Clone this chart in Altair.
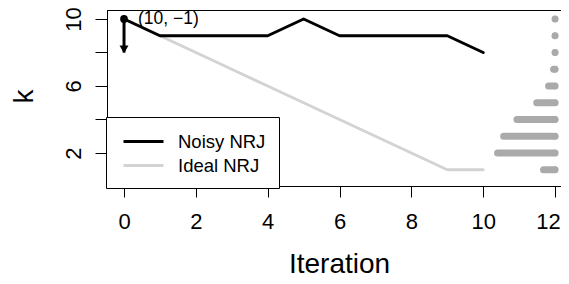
import altair as alt
import pandas as pd

# ---- data ----
iterations = [0, 1, 2, 3, 4, 5, 6, 7, 8, 9, 10]
noisy_k = [10, 9, 9, 9, 9, 10, 9, 9, 9, 9, 8]
ideal_k = [10, 9, 8, 7, 6, 5, 4, 3, 2, 1, 1]
hist_k = [1, 2, 3, 4, 5, 6, 7, 8, 9, 10]
hist_start = [11.68, 10.40, 10.57, 10.94, 11.49, 11.82, 11.96, 12.0, 12.0, 12.0]
hist_end = [12, 12, 12, 12, 12, 12, 12, 12, 12, 12]
start_x = [0]
start_k = [10]
arrow_end_k = [8]
annotation = ["(10, \u22121)"]
x_ticks = [0, 2, 4, 6, 8, 10, 12]
y_ticks = [2, 4, 6, 8, 10]
series_names = ["Noisy NRJ", "Ideal NRJ"]
series_colors = ["#000000", "#d3d3d3"]

W, H = 454, 176
FONT = "Liberation Sans"

xscale = alt.Scale(domain=[-0.474, 12.166], nice=False, zero=False)
yscale = alt.Scale(domain=[0.03, 10.537], nice=False, zero=False)
cscale = alt.Scale(domain=series_names, range=series_colors)

noisy_df = pd.DataFrame({"Iteration": iterations, "k": noisy_k, "series": series_names[0]})
ideal_df = pd.DataFrame({"Iteration": iterations, "k": ideal_k, "series": series_names[1]})
hist_df = pd.DataFrame({"k": hist_k, "x0": hist_start, "x1": hist_end})
start_df = pd.DataFrame({"x": start_x, "k": start_k, "k2": arrow_end_k, "label": annotation})

x_axis = alt.Axis(values=x_ticks, title="Iteration", grid=False, tickSize=11,
                  tickColor="black", domainColor="black", labelColor="black",
                  titleColor="black", labelFont=FONT, titleFont=FONT,
                  labelFontSize=22, labelBaseline="alphabetic", labelPadding=31,
                  labelFlush=False, labelOverlap=False,
                  labelOffset={"condition": {"test": "datum.value == 12", "value": -7}, "value": 0},
                  titleFontSize=28, titleFontWeight="normal", titleBaseline="alphabetic",
                  titleAlign="center", titleX=232, titleY=86)
y_axis = alt.Axis(values=y_ticks, title="k", grid=False, tickSize=12,
                  tickColor="black", domainColor="black", labelColor="black",
                  titleColor="black", labelFont=FONT, titleFont=FONT,
                  labelFontSize=22, labelAngle=270, labelAlign="center",
                  labelBaseline="alphabetic", labelPadding=15, labelFlush=False,
                  labelOverlap=False,
                  labelExpr="datum.value % 4 == 2 ? datum.label : ''",
                  titleFontSize=28, titleFontWeight="normal", titleAngle=270,
                  titleAlign="center", titleBaseline="alphabetic", titleX=-75, titleY=86)

legend = alt.Legend(title=None, orient="none", legendX=-1, legendY=107,
                    strokeColor="black", fillColor="white", padding=13,
                    symbolType="M-2,0H2", symbolSize=400, symbolStrokeWidth=3,
                    symbolOffset=13,
                    labelFontSize=18.5, labelFont=FONT, labelColor="black",
                    labelOffset=23, rowPadding=3, cornerRadius=0)

ideal = alt.Chart(ideal_df).mark_line(strokeWidth=3, strokeCap="round", strokeJoin="round").encode(
    x=alt.X("Iteration:Q", scale=xscale, axis=x_axis),
    y=alt.Y("k:Q", scale=yscale, axis=y_axis),
    color=alt.Color("series:N", scale=cscale, legend=legend),
)
noisy = alt.Chart(noisy_df).mark_line(strokeWidth=3, strokeCap="round", strokeJoin="round").encode(
    x=alt.X("Iteration:Q", scale=xscale),
    y=alt.Y("k:Q", scale=yscale),
    color=alt.Color("series:N", scale=cscale, legend=legend),
)
hist_bars = alt.Chart(hist_df).mark_rule(color="#aaaaaa", strokeWidth=7, strokeCap="round").encode(
    x=alt.X("x0:Q", scale=xscale), x2="x1:Q", y=alt.Y("k:Q", scale=yscale)
)
hist_dots = alt.Chart(hist_df).mark_circle(color="#aaaaaa", size=40, opacity=1).encode(
    x=alt.X("x1:Q", scale=xscale), y=alt.Y("k:Q", scale=yscale)
)
arrow_shaft = alt.Chart(start_df).mark_rule(color="black", strokeWidth=3).encode(
    x=alt.X("x:Q", scale=xscale), y=alt.Y("k:Q", scale=yscale), y2="k2:Q"
)
arrow_head = alt.Chart(start_df).mark_point(shape="triangle-down", filled=True, color="black",
                                            size=80, opacity=1, yOffset=-3).encode(
    x=alt.X("x:Q", scale=xscale), y=alt.Y("k2:Q", scale=yscale)
)
start_pt = alt.Chart(start_df).mark_circle(color="black", size=60, opacity=1).encode(
    x=alt.X("x:Q", scale=xscale), y=alt.Y("k:Q", scale=yscale)
)
label = alt.Chart(start_df).mark_text(align="left", baseline="middle", dx=14, dy=0,
                                       fontSize=17.5, font=FONT, color="black").encode(
    x=alt.X("x:Q", scale=xscale), y=alt.Y("k:Q", scale=yscale), text="label:N"
)
top_border = alt.Chart(pd.DataFrame({"a": [0]})).mark_rule(color="black", strokeWidth=1).encode(
    x=alt.value(0), x2=alt.value(W), y=alt.value(0.5)
)

chart = alt.layer(
    ideal, noisy, hist_bars, hist_dots, arrow_shaft, arrow_head, start_pt, label, top_border
).properties(
    width=W, height=H,
    autosize=alt.AutoSizeParams(type="none"),
    padding={"left": 99, "top": 2, "right": 0, "bottom": 93},
).configure_view(stroke=None).configure(background="white")

chart.save("out.html", embed_options={"renderer": "svg", "actions": False})
